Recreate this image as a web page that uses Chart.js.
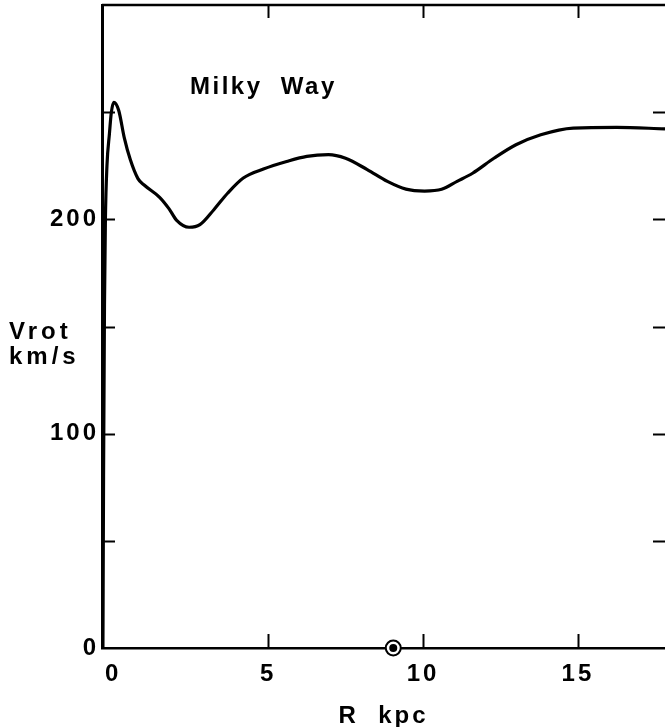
<!DOCTYPE html>
<html>
<head>
<meta charset="utf-8">
<script src="https://cdn.jsdelivr.net/npm/chart.js@4/dist/chart.umd.min.js"></script>
<style>
  html, body { margin: 0; padding: 0; background: #fff; overflow: hidden; }
  #wrap { position: relative; width: 665px; height: 727px; }
</style>
</head>
<body>
<div id="wrap"><canvas id="c"></canvas></div>
<script>
// Rotation curve of the Milky Way
const radiusKpc = [-0.33, -0.31, -0.28, -0.25, -0.2, -0.12, -0.06, 0.02, 0.18, 0.36, 0.55, 0.8, 1.0, 1.5, 1.8, 2.05, 2.45, 2.8, 3.25, 3.7, 4.2, 4.85, 5.6, 6.25, 6.95, 7.5, 8.2, 8.85, 9.45, 10.05, 10.6, 11.1, 11.6, 12.3, 13.0, 13.8, 14.85, 16.25, 17.81];
const vrotKms   = [0, 80, 160, 200, 225, 240, 249.7, 254.6, 250.8, 238, 228, 219, 216, 210.3, 205, 199.5, 196.3, 197.5, 204.5, 212.3, 219.3, 223.5, 227, 229.4, 230.2, 228.5, 223.2, 217.7, 214.1, 213.2, 214, 217.7, 221.5, 228.6, 234.8, 239.5, 242.6, 242.9, 242.2];
// Sun position marker
const sunR = [9.04];
const sunV = [0];
// Axis ticks
const xTickValues = [0, 5, 10, 15];
const yTickValues = [0, 50, 100, 150, 200, 250, 300];
const yLabelValues = [0, 100, 200];

const FONT = '"Liberation Sans", Arial, Helvetica, sans-serif';

const textPlugin = {
  id: 'decor',
  beforeLayout(chart) { chart.ctx.letterSpacing = '3px'; },
  beforeDraw(chart) { chart.ctx.letterSpacing = '3px'; },
  afterDraw(chart) {
    const ctx = chart.ctx;
    const a = chart.chartArea;
    const xs = chart.scales.x, ys = chart.scales.y;
    ctx.save();
    ctx.strokeStyle = '#000';
    // top border
    ctx.lineWidth = 2.5;
    ctx.beginPath(); ctx.moveTo(a.left, a.top); ctx.lineTo(a.right + 2, a.top); ctx.stroke();
    // x tick marks (bottom up, top down)
    ctx.lineWidth = 2;
    xTickValues.forEach(v => {
      if (v === 0) return;
      const px = Math.round(xs.getPixelForValue(v)) + 0.5;
      ctx.beginPath(); ctx.moveTo(px, a.bottom); ctx.lineTo(px, a.bottom - 14); ctx.stroke();
      ctx.beginPath(); ctx.moveTo(px, a.top); ctx.lineTo(px, a.top + 13); ctx.stroke();
    });
    // y tick marks (left inward, right inward)
    yTickValues.forEach(v => {
      if (v === 0 || v === 300) return;
      const py = Math.round(ys.getPixelForValue(v)) + 0.5;
      ctx.beginPath(); ctx.moveTo(a.left, py); ctx.lineTo(a.left + 13, py); ctx.stroke();
      ctx.beginPath(); ctx.moveTo(a.right - 12, py); ctx.lineTo(a.right, py); ctx.stroke();
    });
    // texts
    ctx.fillStyle = '#000';
    ctx.textAlign = 'left';
    ctx.textBaseline = 'alphabetic';
    ctx.letterSpacing = '2.5px';
    ctx.font = 'bold 24px ' + FONT;
    ctx.fillText('Milky  Way', 190, 94);
    ctx.letterSpacing = '4px';
    ctx.font = 'bold 24px ' + FONT;
    ctx.fillText('Vrot', 9, 339);
    ctx.fillText('km/s', 9, 364);
    ctx.restore();
  }
};

new Chart(document.getElementById('c'), {
  type: 'scatter',
  data: {
    datasets: [
      {
        label: 'Sun core',
        data: sunR.map((r, i) => ({ x: r, y: sunV[i] })),
        pointRadius: 4,
        pointBackgroundColor: '#000',
        pointBorderWidth: 0,
        clip: false,
        order: 0
      },
      {
        label: 'Sun ring',
        data: sunR.map((r, i) => ({ x: r, y: sunV[i] })),
        pointRadius: 7.5,
        pointBackgroundColor: '#fff',
        pointBorderColor: '#000',
        pointBorderWidth: 2,
        clip: false,
        order: 1
      },
      {
        label: 'Milky Way',
        data: radiusKpc.map((r, i) => ({ x: r, y: vrotKms[i] })),
        showLine: true,
        borderColor: '#000',
        borderWidth: 3.2,
        pointRadius: 0,
        cubicInterpolationMode: 'monotone',
        fill: false,
        clip: false,
        order: 2
      }
    ]
  },
  options: {
    responsive: true,
    maintainAspectRatio: false,
    animation: false,
    layout: { autoPadding: false, padding: { left: 0, top: 5, right: 0, bottom: 0 } },
    plugins: { legend: { display: false }, tooltip: { enabled: false } },
    scales: {
      x: {
        type: 'linear',
        position: 'bottom',
        min: -0.36,
        max: 17.81,
        afterBuildTicks: s => { s.ticks = xTickValues.map(v => ({ value: v })); },
        afterFit: s => { s.height = 79; s.paddingLeft = 0; s.paddingRight = 0; s.paddingTop = 0; s.paddingBottom = 0; },
        grid: { display: false, drawTicks: false },
        border: { display: true, color: '#000', width: 2.5 },
        ticks: {
          color: '#000',
          font: { family: FONT, size: 24, weight: 'bold' },
          padding: 12,
          maxRotation: 0,
          autoSkip: false,
          callback: v => String(v)
        },
        title: {
          display: true,
          text: 'R  kpc',
          color: '#000',
          font: { family: FONT, size: 24, weight: 'bold' },
          padding: { top: 0, bottom: -4 }
        }
      },
      y: {
        type: 'linear',
        position: 'left',
        min: 0,
        max: 300,
        afterBuildTicks: s => { s.ticks = yTickValues.map(v => ({ value: v })); },
        afterFit: s => { s.width = 102; s.paddingLeft = 0; s.paddingRight = 0; s.paddingTop = 0; s.paddingBottom = 0; },
        grid: { display: false, drawTicks: false },
        border: { display: true, color: '#000', width: 3 },
        ticks: {
          color: '#000',
          font: { family: FONT, size: 24, weight: 'bold' },
          padding: 3,
          autoSkip: false,
          callback: v => (yLabelValues.includes(v) ? String(v) : '')
        }
      }
    }
  },
  plugins: [textPlugin]
});
</script>
</body>
</html>
